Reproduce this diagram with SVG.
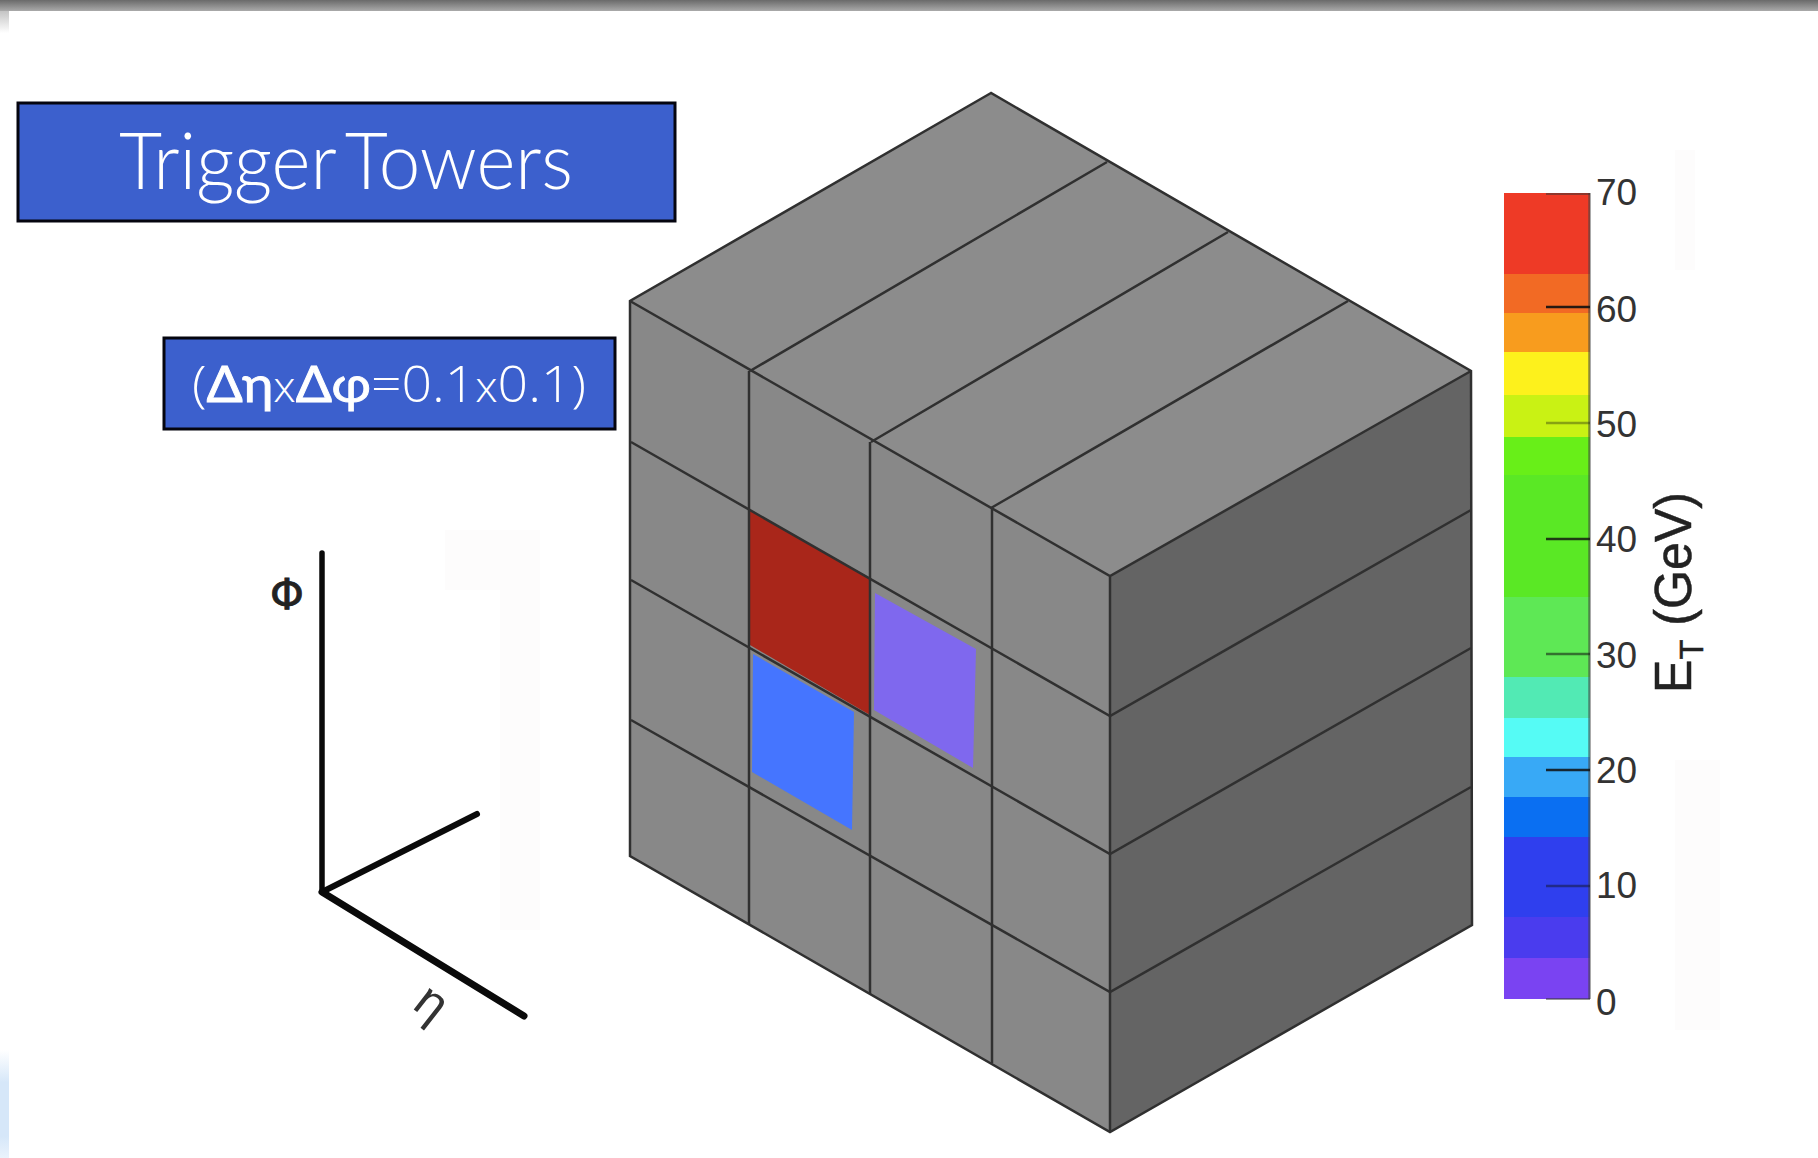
<svg xmlns="http://www.w3.org/2000/svg" width="1818" height="1158" viewBox="0 0 1818 1158">
<style>
.box{fill:#3c60cd;stroke:#05050f;stroke-width:3}
.title{font-family:"Lato","Liberation Sans",sans-serif;font-weight:300;fill:#fff}
.edge{stroke:#303030;stroke-width:2.5;fill:none}
.tick{stroke-width:2.6}
.num{font-family:"Liberation Sans",sans-serif;font-size:37px;fill:#333}
.axis{stroke:#0a0a0a;fill:none;stroke-linecap:round}
.smudge{fill:#fdfcfc}
</style>
<defs>
<linearGradient id="bar" x1="0" y1="0" x2="0" y2="1"><stop offset="0" stop-color="#6a6a6a"/><stop offset="1" stop-color="#aaa"/></linearGradient>
<linearGradient id="corner" x1="0" y1="0" x2="0" y2="1"><stop offset="0" stop-color="#c4c4c4"/><stop offset="1" stop-color="#fff"/></linearGradient>
<linearGradient id="sideblue" x1="0" y1="0" x2="0" y2="1"><stop offset="0" stop-color="#fff"/><stop offset=".3" stop-color="#d6e7f9"/><stop offset=".8" stop-color="#d6e7f9"/><stop offset="1" stop-color="#eaf3fc"/></linearGradient>
</defs>
<rect width="1818" height="1158" fill="#fff"/>
<g id="frame">
<rect x="0" y="0" width="1818" height="11" fill="url(#bar)"/>
<rect x="0" y="11" width="9" height="22" fill="url(#corner)"/>
<rect x="0" y="1050" width="9" height="108" fill="url(#sideblue)"/>
</g>
<g id="smudges">
<rect class="smudge" x="445" y="530" width="95" height="60"/>
<rect class="smudge" x="500" y="590" width="40" height="340"/>
<rect class="smudge" x="1675" y="150" width="20" height="120"/>
<rect class="smudge" x="1675" y="760" width="45" height="270"/>
</g>
<g id="title-box">
<rect class="box" x="18" y="103" width="657" height="118"/>
<text class="title" x="119" y="189" font-size="79" word-spacing="-9" textLength="454" lengthAdjust="spacingAndGlyphs">Trigger Towers</text>
</g>
<g id="granularity-box">
<rect class="box" x="164" y="338" width="451" height="91"/>
<text x="192" y="402" font-size="50" textLength="394" lengthAdjust="spacingAndGlyphs" fill="#fff" font-family="Open Sans,Lato,sans-serif" font-weight="300">(<tspan font-family="Lato,sans-serif" font-weight="400" stroke="#fff" stroke-width=".9">Δη</tspan><tspan font-size="42">x</tspan><tspan font-family="Lato,sans-serif" font-weight="400" stroke="#fff" stroke-width=".9">Δφ</tspan>=0.1<tspan font-size="42">x</tspan>0.1)</text>
</g>
<g id="axes">
<path class="axis" stroke-width="5.5" d="M322 553V892"/>
<path class="axis" stroke-width="6" d="M322 892L477 814"/>
<path class="axis" stroke-width="7" d="M322 892L524 1016"/>
<text x="287" y="609" text-anchor="middle" font-family="DejaVu Sans,sans-serif" font-size="43" fill="#222" stroke="#222" stroke-width=".8">Φ</text>
<text transform="translate(428 1008) rotate(38)" text-anchor="middle" y="10" font-family="Liberation Sans,sans-serif" font-size="50" fill="#333">η</text>
</g>
<g id="tower-block">
<polygon points="991,93 630,301 1110,576 1471,371" fill="#8c8c8c"/>
<polygon points="630,301 1110,576 1110,1132 630,856" fill="#888"/>
<polygon points="1110,576 1471,371 1472,925 1110,1132" fill="#646464"/>
<polygon id="cell-red" points="750,510 870,578 870,715 750,645" fill="#a9261a"/>
<polygon id="cell-blue" points="753,654 854,712 852,830 752,772" fill="#4575ff"/>
<polygon id="cell-violet" points="875,593 976,649 973,768 874,710" fill="#7f68ee"/>
<g id="tower-grid">
<path class="edge" d="M991 93L630 301V856L1110 1132L1472 925L1471 371Z"/>
<path class="edge" d="M630 301L1110 576L1471 371M1110 576V1132"/>
<path class="edge" d="M750 371L1107 162M871 442L1228 232M991 508L1348 301"/>
<path class="edge" d="M749 371V924M870 442V994M992 508V1063"/>
<path class="edge" d="M631 442L1110 716L1471 510M631 580L1110 854L1471 648M631 720L1110 992L1471 787"/>
</g>
</g>
<g id="colorbar">
<rect x="1504" y="193" width="86" height="81" fill="#ee3a26"/>
<rect x="1504" y="274" width="86" height="39" fill="#f26a24"/>
<rect x="1504" y="313" width="86" height="39" fill="#f89c1e"/>
<rect x="1504" y="352" width="86" height="43" fill="#fdf11c"/>
<rect x="1504" y="395" width="86" height="42" fill="#c9f214"/>
<rect x="1504" y="437" width="86" height="38" fill="#68ef18"/>
<rect x="1504" y="475" width="86" height="122" fill="#5ae825"/>
<rect x="1504" y="597" width="86" height="80" fill="#5ee855"/>
<rect x="1504" y="677" width="86" height="41" fill="#52eab4"/>
<rect x="1504" y="718" width="86" height="39" fill="#55fbf5"/>
<rect x="1504" y="757" width="86" height="40" fill="#38a9f6"/>
<rect x="1504" y="797" width="86" height="40" fill="#0a6ff2"/>
<rect x="1504" y="837" width="86" height="80" fill="#2f3fee"/>
<rect x="1504" y="917" width="86" height="41" fill="#4a3cee"/>
<rect x="1504" y="958" width="86" height="41" fill="#7a43f2"/>
<path d="M1589.5 193V999" stroke="#444" stroke-width="2.5" opacity=".6"/>
<path d="M1546 194H1590M1546 999H1590" stroke="#333" stroke-width="2" opacity=".5"/>
<g stroke="#111">
<path class="tick" d="M1546 307H1590" opacity=".9"/>
<path class="tick" d="M1546 423H1590" opacity=".35"/>
<path class="tick" d="M1546 539H1590" opacity=".8"/>
<path class="tick" d="M1546 654H1590" opacity=".55"/>
<path class="tick" d="M1546 770H1590" opacity=".85"/>
<path class="tick" d="M1546 886H1590" opacity=".45"/>
</g>
<text class="num" x="1596" y="205">70</text>
<text class="num" x="1596" y="322">60</text>
<text class="num" x="1596" y="437">50</text>
<text class="num" x="1596" y="552">40</text>
<text class="num" x="1596" y="668">30</text>
<text class="num" x="1596" y="783">20</text>
<text class="num" x="1596" y="898">10</text>
<text class="num" x="1596" y="1015">0</text>
<text transform="translate(1691 693) rotate(-90)" font-family="Liberation Sans,sans-serif" font-size="52" fill="#222" stroke="#222" stroke-width=".5" textLength="201" lengthAdjust="spacingAndGlyphs">E<tspan font-size="34" dy="12">T</tspan><tspan dy="-12"> (GeV)</tspan></text>
</g>
</svg>
